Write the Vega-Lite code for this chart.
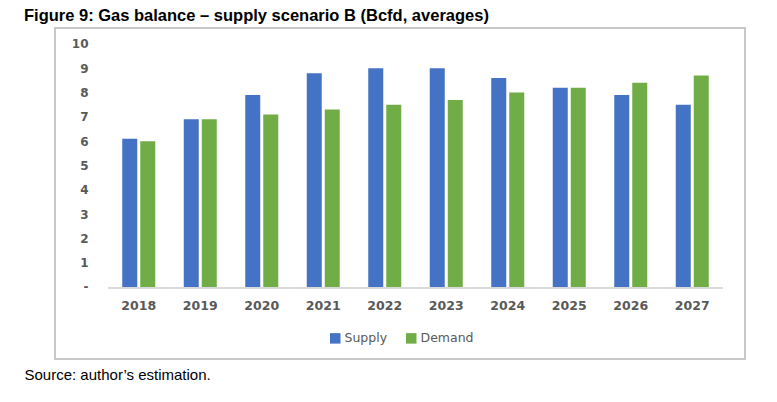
{
  "$schema": "https://vega.github.io/schema/vega-lite/v6.json",
  "width": 690,
  "height": 331,
  "autosize": {"type": "none"},
  "padding": {"left": 55, "top": 28, "right": 32, "bottom": 43},
  "background": "white",
  "config": {
    "view": {"stroke": "#c8c8c8", "strokeWidth": 2},
    "axisY": {"labelOverlap": false, "labelSeparation": 0}
  },
  "title": {
    "text": "Figure 9: Gas balance – supply scenario B (Bcfd, averages)",
    "anchor": "start",
    "frame": "group",
    "dx": -31,
    "offset": -9.5,
    "baseline": "alphabetic",
    "font": "Liberation Sans",
    "fontSize": 16.5,
    "fontWeight": "bold",
    "color": "#000000"
  },
  "data": {
    "values": [
      {"year": "2018", "series": "Supply", "value": 6.1},
      {"year": "2018", "series": "Demand", "value": 6.0},
      {"year": "2019", "series": "Supply", "value": 6.9},
      {"year": "2019", "series": "Demand", "value": 6.9},
      {"year": "2020", "series": "Supply", "value": 7.9},
      {"year": "2020", "series": "Demand", "value": 7.1},
      {"year": "2021", "series": "Supply", "value": 8.8},
      {"year": "2021", "series": "Demand", "value": 7.3},
      {"year": "2022", "series": "Supply", "value": 9.0},
      {"year": "2022", "series": "Demand", "value": 7.5},
      {"year": "2023", "series": "Supply", "value": 9.0},
      {"year": "2023", "series": "Demand", "value": 7.7},
      {"year": "2024", "series": "Supply", "value": 8.6},
      {"year": "2024", "series": "Demand", "value": 8.0},
      {"year": "2025", "series": "Supply", "value": 8.2},
      {"year": "2025", "series": "Demand", "value": 8.2},
      {"year": "2026", "series": "Supply", "value": 7.9},
      {"year": "2026", "series": "Demand", "value": 8.4},
      {"year": "2027", "series": "Supply", "value": 7.5},
      {"year": "2027", "series": "Demand", "value": 8.7}
    ]
  },
  "encoding": {
    "x": {
      "field": "year",
      "type": "nominal",
      "sort": null,
      "scale": {"paddingInner": 0, "paddingOuter": 0.6098, "align": 0.7067},
      "axis": {
        "orient": "bottom",
        "offset": -72,
        "domain": false,
        "ticks": false,
        "labelAngle": 0,
        "labelPadding": 12,
        "labelFont": "DejaVu Sans",
        "labelFontWeight": "bold",
        "labelFontSize": 12.5,
        "labelColor": "#595959",
        "title": "Source: author’s estimation.",
        "titleX": -31,
        "titleY": 87,
        "titleAlign": "left",
        "titleBaseline": "middle",
        "titleFont": "Liberation Sans",
        "titleFontSize": 15,
        "titleFontWeight": "normal",
        "titleColor": "#000000"
      }
    }
  },
  "layer": [
    {
      "mark": {"type": "bar"},
      "encoding": {
        "xOffset": {
          "field": "series",
          "type": "nominal",
          "sort": ["Supply", "Demand"],
          "scale": {"paddingInner": 0.1667, "paddingOuter": 0.7917}
        },
        "y": {
          "field": "value",
          "type": "quantitative",
          "scale": {"domain": [-2.963, 10.658], "nice": false, "zero": false},
          "axis": {
            "values": [0, 1, 2, 3, 4, 5, 6, 7, 8, 9, 10],
            "tickCount": 14,
            "labelExpr": "datum.value == 0 ? '-' : format(datum.value, 'd')",
            "labelOverlap": false,
            "offset": -38,
            "domain": false,
            "ticks": false,
            "grid": false,
            "labelPadding": 5,
            "labelFont": "DejaVu Sans",
            "labelFontWeight": "bold",
            "labelFontSize": 12,
            "labelColor": "#595959",
            "title": null
          }
        },
        "y2": {"datum": 0},
        "color": {
          "field": "series",
          "type": "nominal",
          "sort": ["Supply", "Demand"],
          "scale": {"domain": ["Supply", "Demand"], "range": ["#4472C4", "#70AD47"]},
          "legend": {
            "orient": "none",
            "direction": "horizontal",
            "legendX": 274,
            "legendY": 304,
            "title": null,
            "symbolType": "square",
            "symbolSize": 110,
            "symbolStrokeWidth": 0,
            "labelFont": "DejaVu Sans",
            "labelFontSize": 12.5,
            "labelColor": "#595959",
            "labelOffset": 3,
            "columnPadding": 17
          }
        }
      }
    },
    {
      "mark": {"type": "bar", "color": "#d9d9d9"},
      "encoding": {
        "y": {"datum": 0, "type": "quantitative"},
        "y2": {"datum": -0.07}
      }
    }
  ]
}
